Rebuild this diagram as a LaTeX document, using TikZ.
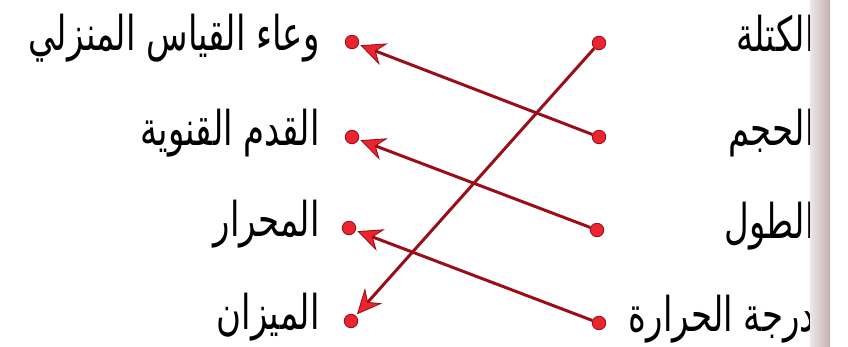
\documentclass[tikz,border=0pt]{standalone}
\usepackage{fontspec}
\usepackage{graphicx}
\newfontfamily\arabicfont[Script=Arabic]{DejaVu Sans}
\TeXXeTstate=1
\usetikzlibrary{arrows.meta}
\definecolor{linered}{HTML}{9A0E18}
\definecolor{dotred}{HTML}{EC2430}
\definecolor{gutter}{HTML}{C4AFB1}
\newcommand{\arw}[1]{\scalebox{0.88}[1.24]{\arabicfont\beginR #1\endR}}
\begin{document}
\begin{tikzpicture}[x=0.02cm, y=-0.02cm,
    dot/.style={circle, fill=dotred, draw=linered, line width=0.5pt, inner sep=0pt, minimum size=0.27cm},
    word/.style={anchor=base east, font=\fontsize{22}{26}\selectfont, inner sep=0pt},
    link/.style={linered, line width=1.7pt, shorten >=1pt, -{Stealth[length=0.5cm, width=0.46cm, inset=0.17cm, fill=dotred, line width=0.5pt]}}]
    \useasboundingbox (0,0) rectangle (848,347);

    %quantities (right column)
    \node[dot] (m1) at (599,43) {};
    \node[dot] (m2) at (599,137) {};
    \node[dot] (m3) at (597,230) {};
    \node[dot] (m4) at (599,323) {};
    \node[word] (q1) at (815,52) {\arw{الكتلة}};
    \node[word] (q2) at (815,146) {\arw{الحجم}};
    \node[word] (q3) at (815,239) {\arw{الطول}};
    \node[word] (q4) at (815,332) {\arw{درجة الحرارة}};

    %tools (left column)
    \node[dot] (t1) at (352,42) {};
    \node[dot] (t2) at (352,137) {};
    \node[dot] (t3) at (349,228) {};
    \node[dot] (t4) at (351,321) {};
    \node[word] (n1) at (320,51) {\arw{وعاء القياس المنزلي}};
    \node[word] (n2) at (320,146) {\arw{القدم القنوية}};
    \node[word] (n3) at (320,237) {\arw{المحرار}};
    \node[word] (n4) at (320,330) {\arw{الميزان}};

    %matches
    \draw[link] (m1) -- (t4);
    \draw[link] (m2) -- (t1);
    \draw[link] (m3) -- (t2);
    \draw[link] (m4) -- (t3);

    %page gutter
    \shade[left color=gutter!30, right color=gutter] (810,0) rectangle (830,347);
\end{tikzpicture}
\end{document}
